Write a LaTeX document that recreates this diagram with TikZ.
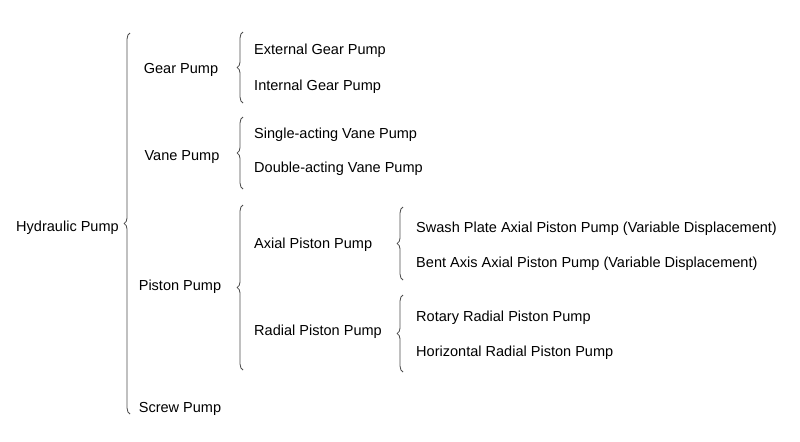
\documentclass[tikz,border=0pt]{standalone}
\usepackage{fontspec}
\setmainfont{Liberation Sans}
\usetikzlibrary{decorations.pathreplacing}

\begin{document}
\begin{tikzpicture}[x=0.03cm, y=-0.03cm,
        item/.style={font=\fontsize{12.4}{14}\selectfont, anchor=west, inner sep=0pt},
        kind/.style={font=\fontsize{12.4}{14}\selectfont, inner sep=0pt},
        group/.style={decorate, decoration={brace, amplitude=5pt}, line width=0.7pt, black!70},
    ]
    \useasboundingbox (0,0) rectangle (800,441);
    % root
    \node[item] (hp) at (16,228) {Hydraulic Pump};
    % first level
    \node[kind] (gear) at (181,70) {Gear Pump};
    \node[kind] (vane) at (182,157) {Vane Pump};
    \node[kind] (piston) at (180,287) {Piston Pump};
    \node[kind] (screw) at (180,409) {Screw Pump};
    % second level
    \node[item] (ext) at (254,51) {External Gear Pump};
    \node[item] (int) at (254,87) {Internal Gear Pump};
    \node[item] (single) at (254,135) {Single-acting Vane Pump};
    \node[item] (double) at (254,169) {Double-acting Vane Pump};
    \node[item] (axial) at (254,245) {Axial Piston Pump};
    \node[item] (radial) at (254,332) {Radial Piston Pump};
    % third level
    \node[item] (swash) at (416,229) {Swash Plate Axial Piston Pump (Variable Displacement)};
    \node[item] (bent) at (416,264) {Bent Axis Axial Piston Pump (Variable Displacement)};
    \node[item] (rotary) at (416,318) {Rotary Radial Piston Pump};
    \node[item] (horiz) at (416,353) {Horizontal Radial Piston Pump};
    % brace ends
    \coordinate (hpT) at (130,33);   \coordinate (hpB) at (130,414);
    \coordinate (gearT) at (243,32); \coordinate (gearB) at (243,103);
    \coordinate (vaneT) at (243,117); \coordinate (vaneB) at (243,189);
    \coordinate (pistT) at (243,205); \coordinate (pistB) at (243,370);
    \coordinate (axT) at (403,207);  \coordinate (axB) at (403,280);
    \coordinate (radT) at (403,295); \coordinate (radB) at (403,372);
    \draw[group] (hpB) -- (hpT);
    \draw[group] (gearB) -- (gearT);
    \draw[group] (vaneB) -- (vaneT);
    \draw[group] (pistB) -- (pistT);
    \draw[group] (axB) -- (axT);
    \draw[group] (radB) -- (radT);
\end{tikzpicture}
\end{document}
